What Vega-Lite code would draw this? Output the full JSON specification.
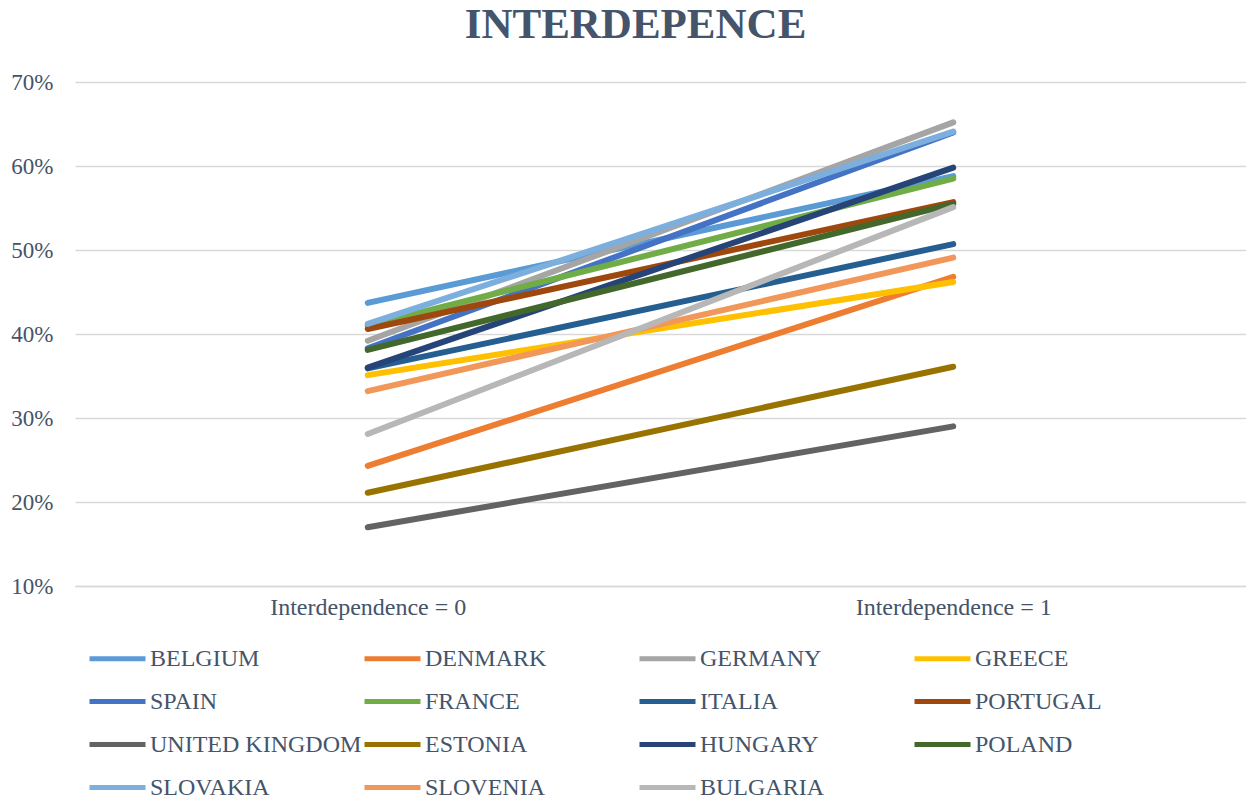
{
  "$schema": "https://vega.github.io/schema/vega-lite/v6.json",
  "width": 1171,
  "height": 504,
  "padding": {"left": 10, "top": 4, "right": 0, "bottom": 0},
  "background": "white",
  "title": {
    "text": "INTERDEPENCE",
    "font": "Liberation Serif",
    "fontSize": 43,
    "fontWeight": "bold",
    "color": "#44546A",
    "anchor": "middle",
    "dx": -25,
    "offset": 24
  },
  "config": {
    "view": {"stroke": null},
    "font": "Liberation Serif"
  },
  "data": {
    "values": [
      {"country": "BELGIUM", "level": "Interdependence = 0", "share": 0.437},
      {"country": "BELGIUM", "level": "Interdependence = 1", "share": 0.588},
      {"country": "DENMARK", "level": "Interdependence = 0", "share": 0.243},
      {"country": "DENMARK", "level": "Interdependence = 1", "share": 0.468},
      {"country": "GERMANY", "level": "Interdependence = 0", "share": 0.392},
      {"country": "GERMANY", "level": "Interdependence = 1", "share": 0.652},
      {"country": "GREECE", "level": "Interdependence = 0", "share": 0.351},
      {"country": "GREECE", "level": "Interdependence = 1", "share": 0.462},
      {"country": "SPAIN", "level": "Interdependence = 0", "share": 0.383},
      {"country": "SPAIN", "level": "Interdependence = 1", "share": 0.640},
      {"country": "FRANCE", "level": "Interdependence = 0", "share": 0.410},
      {"country": "FRANCE", "level": "Interdependence = 1", "share": 0.585},
      {"country": "ITALIA", "level": "Interdependence = 0", "share": 0.359},
      {"country": "ITALIA", "level": "Interdependence = 1", "share": 0.507},
      {"country": "PORTUGAL", "level": "Interdependence = 0", "share": 0.406},
      {"country": "PORTUGAL", "level": "Interdependence = 1", "share": 0.557},
      {"country": "UNITED KINGDOM", "level": "Interdependence = 0", "share": 0.170},
      {"country": "UNITED KINGDOM", "level": "Interdependence = 1", "share": 0.290},
      {"country": "ESTONIA", "level": "Interdependence = 0", "share": 0.211},
      {"country": "ESTONIA", "level": "Interdependence = 1", "share": 0.361},
      {"country": "HUNGARY", "level": "Interdependence = 0", "share": 0.360},
      {"country": "HUNGARY", "level": "Interdependence = 1", "share": 0.598},
      {"country": "POLAND", "level": "Interdependence = 0", "share": 0.381},
      {"country": "POLAND", "level": "Interdependence = 1", "share": 0.555},
      {"country": "SLOVAKIA", "level": "Interdependence = 0", "share": 0.412},
      {"country": "SLOVAKIA", "level": "Interdependence = 1", "share": 0.641},
      {"country": "SLOVENIA", "level": "Interdependence = 0", "share": 0.332},
      {"country": "SLOVENIA", "level": "Interdependence = 1", "share": 0.491},
      {"country": "BULGARIA", "level": "Interdependence = 0", "share": 0.281},
      {"country": "BULGARIA", "level": "Interdependence = 1", "share": 0.551}
    ]
  },
  "mark": {"type": "line", "strokeWidth": 6, "strokeCap": "round"},
  "encoding": {
    "x": {
      "field": "level",
      "type": "nominal",
      "sort": null,
      "scale": {"type": "point", "padding": 0.5},
      "axis": {
        "title": null,
        "labelAngle": 0,
        "labelFont": "Liberation Serif",
        "labelFontSize": 24,
        "labelColor": "#44546A",
        "labelPadding": 9,
        "labelLimit": 400,
        "ticks": false,
        "domainColor": "#D9D9D9",
        "domainWidth": 1.5,
        "grid": false
      }
    },
    "y": {
      "field": "share",
      "type": "quantitative",
      "scale": {"domain": [0.1, 0.7], "nice": false, "zero": false},
      "axis": {
        "title": null,
        "format": ".0%",
        "values": [0.1, 0.2, 0.3, 0.4, 0.5, 0.6, 0.7],
        "labelFont": "Liberation Serif",
        "labelFontSize": 23,
        "labelColor": "#44546A",
        "labelPadding": 22,
        "ticks": false,
        "domain": false,
        "gridColor": "#D9D9D9",
        "gridWidth": 1.5
      }
    },
    "color": {
      "field": "country",
      "type": "nominal",
      "scale": {
        "domain": ["BELGIUM", "DENMARK", "GERMANY", "GREECE", "SPAIN", "FRANCE", "ITALIA", "PORTUGAL", "UNITED KINGDOM", "ESTONIA", "HUNGARY", "POLAND", "SLOVAKIA", "SLOVENIA", "BULGARIA"],
        "range": ["#5B9BD5", "#ED7D31", "#A5A5A5", "#FFC000", "#4472C4", "#70AD47", "#255E91", "#9E480E", "#636363", "#997300", "#264478", "#43682B", "#7CAFDD", "#F1975A", "#B7B7B7"]
      },
      "legend": {
        "title": null,
        "orient": "bottom",
        "direction": "horizontal",
        "columns": 4,
        "gridAlign": "all",
        "columnPadding": -8,
        "rowPadding": -2,
        "offset": -3,
        "padding": 12,
        "symbolType": "stroke",
        "symbolStrokeWidth": 5,
        "symbolSize": 3136,
        "labelOffset": 2,
        "labelFont": "Liberation Serif",
        "labelFontSize": 24,
        "labelColor": "#44546A",
        "labelLimit": 400
      }
    }
  }
}
